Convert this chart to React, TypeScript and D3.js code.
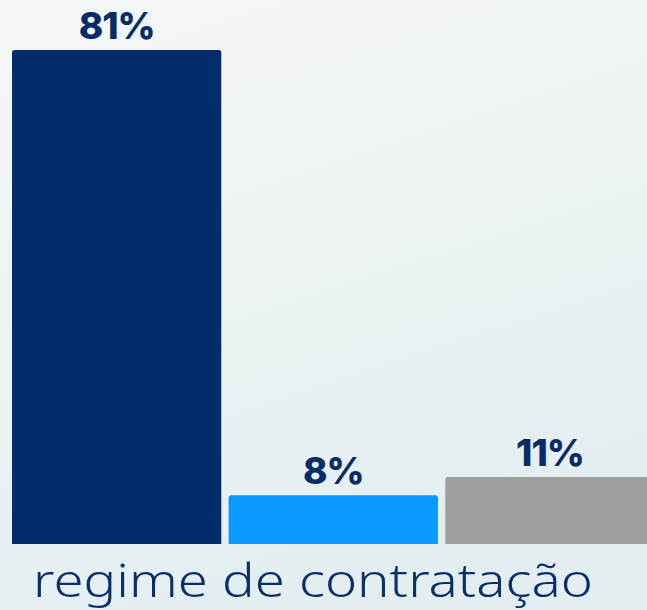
import React, { useEffect, useRef } from "react";
import * as d3 from "d3";

// chart values
const categories = ["CLT", "PJ", "Outros"];
const values = [81, 8, 11];
const valueLabels = ["81%", "8%", "11%"];
const barColors = ["#022d6c", "#0a99ff", "#9e9e9e"];
const axisTitle = "regime de contratação";

const W = 647;
const H = 610;

const App = () => {
  const ref = useRef<SVGSVGElement>(null);

  useEffect(() => {
    const svg = d3.select(ref.current);
    svg.selectAll("*").remove();

    // background gradient
    const defs = svg.append("defs");
    const grad = defs
      .append("linearGradient")
      .attr("id", "bg")
      .attr("x1", "0")
      .attr("y1", "0")
      .attr("x2", "0.35")
      .attr("y2", "1");
    grad.append("stop").attr("offset", "0").attr("stop-color", "#f5f7f7");
    grad.append("stop").attr("offset", "1").attr("stop-color", "#e4eef1");
    svg.append("rect").attr("width", W).attr("height", H).attr("fill", "url(#bg)");

    const base = 544;
    const x = d3
      .scaleBand<string>()
      .domain(categories)
      .range([12, 654.6])
      .paddingInner(0.034)
      .paddingOuter(0);
    const y = d3.scaleLinear().domain([0, 81]).range([base, 50]);

    const data = categories.map((c, i) => ({ c, v: values[i], label: valueLabels[i], color: barColors[i] }));

    // bars with slightly rounded tops
    const r = 2.5;
    svg
      .selectAll("path.bar")
      .data(data)
      .enter()
      .append("path")
      .attr("class", "bar")
      .attr("fill", (d) => d.color)
      .attr("d", (d) => {
        const x0 = x(d.c)!;
        const w = x.bandwidth();
        const y0 = y(d.v);
        return `M${x0},${base}V${y0 + r}Q${x0},${y0} ${x0 + r},${y0}H${x0 + w - r}Q${x0 + w},${y0} ${x0 + w},${y0 + r}V${base}Z`;
      });

    // value labels
    svg
      .selectAll("text.val")
      .data(data)
      .enter()
      .append("text")
      .attr("class", "val")
      .attr("x", (d) => x(d.c)! + x.bandwidth() / 2)
      .attr("y", (d) => y(d.v) - 11)
      .attr("text-anchor", "middle")
      .attr("font-family", "Inter, 'Open Sans', sans-serif")
      .attr("font-weight", 800)
      .attr("font-size", 37)
      .attr("letter-spacing", -1)
      .attr("fill", "#042c66")
      .text((d) => d.label);

    // axis title, stretched to the reference width
    svg
      .append("text")
      .attr("x", 33)
      .attr("y", 597)
      .attr("font-family", "'Noto Sans', 'Open Sans', sans-serif")
      .attr("font-weight", 300)
      .attr("font-size", 46)
      .attr("textLength", 560)
      .attr("lengthAdjust", "spacingAndGlyphs")
      .attr("fill", "#07306a")
      .text(axisTitle);
  }, []);

  return (
    <svg
      ref={ref}
      width={W}
      height={H}
      style={{ position: "fixed", left: 0, top: 0, display: "block" }}
    />
  );
};

export default App;
